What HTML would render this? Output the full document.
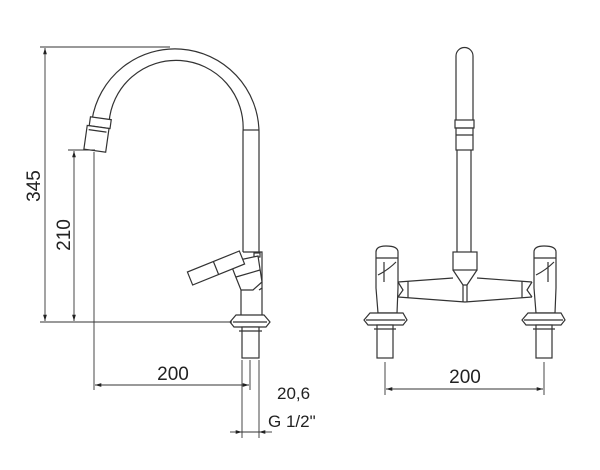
<!DOCTYPE html>
<html><head><meta charset="utf-8"><style>
html,body{margin:0;padding:0;background:#fff}
svg{display:block}
text{font-family:"Liberation Sans",sans-serif;fill:#222}
</style></head><body>
<svg width="600" height="470" viewBox="0 0 600 470" xmlns="http://www.w3.org/2000/svg">
<defs>
<marker id="a" viewBox="0 0 10 10" refX="10" refY="5" markerWidth="7" markerHeight="7" orient="auto-start-reverse"><path d="M0,2 L10,5 L0,8 z" fill="#222"/></marker>
</defs>
<g fill="none" stroke="#333" stroke-width="1.2">
<!-- LEFT FAUCET -->
<path d="M259,252 L259,132 A84,84 0 0 0 92,120"/>
<path d="M243,252 L243,132 A67,67 0 0 0 109,123"/>
<line x1="243" y1="130" x2="259" y2="130"/>
<g transform="rotate(8 98 135)">
<rect x="88" y="118" width="21" height="9" fill="#fff"/>
<rect x="86" y="127" width="22" height="24" fill="#fff"/>
<line x1="88" y1="131" x2="106" y2="131"/>
</g>
<path d="M243,252 L262,252 L262,288 L259,290"/>
<rect x="254" y="253" width="6" height="4"/>
<path d="M230,262 L258,256 L262,282 L253,290 L241,290 L235,275 Z" fill="#fff"/>
<line x1="236" y1="277" x2="260" y2="270"/>
<g transform="rotate(-22 216 268)"><rect x="188" y="261" width="56" height="14" fill="#fff"/><line x1="216" y1="261" x2="216" y2="275"/></g>
<path d="M241,290 L241,315 M262,288 L262,315"/>
<path d="M236,315 L264,315 L270,322 L266,327 L234,327 L230,322 Z" fill="#fff"/>
<line x1="233" y1="322" x2="267" y2="322"/>
<rect x="242" y="327" width="17" height="31" fill="#fff"/>
<line x1="239" y1="331" x2="262" y2="331"/>
<!-- RIGHT FAUCET -->
<path d="M456,120 L456,56 A8.5,8.5 0 0 1 473,56 L473,120"/>
<rect x="455" y="120" width="19" height="8"/>
<rect x="456" y="128" width="17" height="22"/>
<line x1="456" y1="135" x2="473" y2="135"/>
<path d="M457,150 L457,252 M471,150 L471,252"/>
<rect x="453" y="252" width="24" height="18"/>
<path d="M453,270 L463,285 L467,285 L477,270"/>
<path d="M398,282 L453,278 M477,278 L532,282"/>
<path d="M398,297 L465,302 L532,297"/>
<path d="M408,281 L408,298 M522,281 L522,298 M463,285 L463,302 M467,285 L467,302"/>
<path d="M376,252 Q376,246 386,246 Q398,246 398,252 L398,288 L397,313 L378,313 L376,288 Z" fill="#fff"/>
<path d="M376,258 L398,258 M384,262 L384,282 M378,275 Q388,270 396,262"/>
<path d="M398,282 L403,290 L398,297"/>
<path d="M370,313 L403,313 L407,320 L403,325 L368,325 L364,320 Z" fill="#fff"/>
<line x1="366" y1="320" x2="405" y2="320"/>
<rect x="377" y="325" width="16" height="33" fill="#fff"/>
<line x1="374" y1="329" x2="396" y2="329"/>
<path d="M534,252 Q534,246 544,246 Q556,246 556,252 L556,288 L555,313 L536,313 L534,288 Z" fill="#fff"/>
<path d="M534,258 L556,258 M548,262 L548,282 M536,275 Q546,270 554,262"/>
<path d="M532,282 L527,290 L532,297"/>
<path d="M528,313 L561,313 L565,320 L561,325 L526,325 L522,320 Z" fill="#fff"/>
<line x1="524" y1="320" x2="563" y2="320"/>
<rect x="536" y="325" width="16" height="33" fill="#fff"/>
<line x1="533" y1="329" x2="555" y2="329"/>
</g>
<g stroke="#333" stroke-width="0.9" fill="none">
<line x1="40" y1="47" x2="170" y2="47"/>
<line x1="40" y1="322" x2="232" y2="322"/>
<line x1="68" y1="150" x2="95" y2="150"/>
<line x1="45" y1="48" x2="45" y2="321" marker-start="url(#a)" marker-end="url(#a)"/>
<line x1="74" y1="151" x2="74" y2="321" marker-start="url(#a)" marker-end="url(#a)"/>
<line x1="94" y1="152" x2="94" y2="390"/>
<line x1="242" y1="360" x2="242" y2="438"/>
<line x1="250" y1="360" x2="250" y2="390"/>
<line x1="259" y1="360" x2="259" y2="438"/>
<line x1="95" y1="385" x2="249" y2="385" marker-start="url(#a)" marker-end="url(#a)"/>
<line x1="230" y1="432" x2="242" y2="432" marker-end="url(#a)"/>
<line x1="272" y1="432" x2="259" y2="432" marker-end="url(#a)"/>
<line x1="242" y1="432" x2="259" y2="432"/>
<line x1="385" y1="362" x2="385" y2="395"/>
<line x1="544" y1="362" x2="544" y2="395"/>
<line x1="386" y1="389" x2="543" y2="389" marker-start="url(#a)" marker-end="url(#a)"/>
</g>
<text x="40" y="186" font-size="19" text-anchor="middle" transform="rotate(-90 40 186)">345</text>
<text x="70" y="235" font-size="19" text-anchor="middle" transform="rotate(-90 70 235)">210</text>
<text x="173" y="380" font-size="19" text-anchor="middle">200</text>
<text x="277" y="399" font-size="17">20,6</text>
<text x="268" y="427" font-size="17">G 1/2"</text>
<text x="465" y="383" font-size="19" text-anchor="middle">200</text>
</svg>
</body></html>
